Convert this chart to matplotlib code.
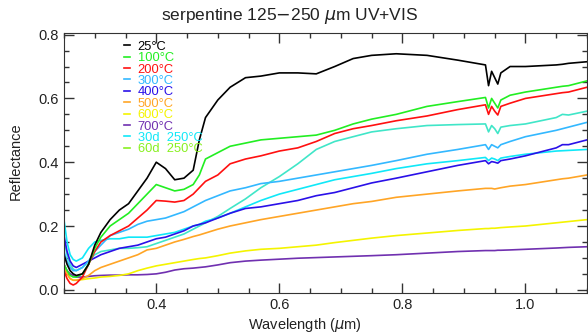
import matplotlib
matplotlib.use('Agg')
import matplotlib.pyplot as plt
from matplotlib.lines import Line2D
from matplotlib.ticker import MultipleLocator

plt.rcParams['font.family'] = ['Liberation Sans', 'DejaVu Sans']
plt.rcParams['mathtext.fontset'] = 'dejavusans'

# wavelength grid (um)
wl = [0.245, 0.25, 0.255, 0.26, 0.265, 0.27, 0.28, 0.29, 0.30, 0.31, 0.325, 0.34,
      0.355, 0.37, 0.385, 0.40, 0.415, 0.43, 0.445, 0.46, 0.47, 0.48, 0.50, 0.52,
      0.545, 0.57, 0.60, 0.63, 0.66, 0.69, 0.72, 0.75, 0.79, 0.84, 0.89, 0.935,
      0.94, 0.945, 0.95, 0.955, 0.96, 0.975, 1.0, 1.05, 1.06, 1.07, 1.1]

r_25 = [0.14, 0.11, 0.08, 0.06, 0.05, 0.045, 0.05, 0.08, 0.14, 0.18, 0.22, 0.25,
        0.27, 0.31, 0.35, 0.40, 0.38, 0.345, 0.35, 0.375, 0.47, 0.54, 0.595, 0.635,
        0.665, 0.67, 0.68, 0.68, 0.677, 0.70, 0.725, 0.735, 0.74, 0.735, 0.72, 0.705,
        0.64, 0.685, 0.665, 0.645, 0.68, 0.70, 0.70, 0.705, 0.707, 0.71, 0.715]
r_100 = [0.10, 0.08, 0.06, 0.045, 0.04, 0.04, 0.05, 0.08, 0.13, 0.165, 0.20, 0.22,
         0.24, 0.27, 0.30, 0.33, 0.32, 0.31, 0.315, 0.33, 0.36, 0.41, 0.43, 0.45,
         0.46, 0.47, 0.475, 0.48, 0.485, 0.50, 0.52, 0.535, 0.55, 0.575, 0.59, 0.603,
         0.57, 0.60, 0.585, 0.57, 0.595, 0.61, 0.62, 0.635, 0.638, 0.64, 0.655]
r_200 = [0.09, 0.06, 0.035, 0.02, 0.015, 0.02, 0.04, 0.08, 0.12, 0.15, 0.17, 0.185,
         0.20, 0.225, 0.25, 0.28, 0.278, 0.275, 0.28, 0.30, 0.32, 0.34, 0.36, 0.395,
         0.41, 0.42, 0.435, 0.445, 0.465, 0.49, 0.505, 0.515, 0.53, 0.545, 0.565, 0.58,
         0.55, 0.575, 0.56, 0.548, 0.575, 0.585, 0.60, 0.615, 0.618, 0.62, 0.635]
r_300 = [0.17, 0.12, 0.09, 0.07, 0.06, 0.06, 0.07, 0.09, 0.12, 0.14, 0.17, 0.18,
         0.19, 0.205, 0.215, 0.22, 0.225, 0.235, 0.245, 0.26, 0.27, 0.28, 0.295, 0.31,
         0.32, 0.333, 0.34, 0.35, 0.36, 0.37, 0.38, 0.39, 0.405, 0.425, 0.44, 0.455,
         0.44, 0.455, 0.45, 0.445, 0.455, 0.465, 0.48, 0.50, 0.505, 0.51, 0.525]
r_400 = [0.22, 0.17, 0.12, 0.09, 0.075, 0.07, 0.08, 0.09, 0.10, 0.11, 0.12, 0.13,
         0.135, 0.14, 0.15, 0.16, 0.165, 0.175, 0.185, 0.20, 0.205, 0.21, 0.225, 0.24,
         0.255, 0.26, 0.27, 0.28, 0.295, 0.305, 0.32, 0.335, 0.35, 0.37, 0.39, 0.405,
         0.395, 0.402, 0.40, 0.397, 0.405, 0.41, 0.42, 0.445, 0.455, 0.455, 0.47]
r_500 = [0.10, 0.07, 0.05, 0.035, 0.03, 0.03, 0.035, 0.045, 0.06, 0.07, 0.08, 0.09,
         0.10, 0.11, 0.125, 0.13, 0.14, 0.15, 0.158, 0.167, 0.172, 0.178, 0.19, 0.20,
         0.21, 0.22, 0.23, 0.24, 0.25, 0.26, 0.27, 0.277, 0.29, 0.30, 0.31, 0.318,
         0.318, 0.318, 0.316, 0.318, 0.32, 0.325, 0.33, 0.345, 0.348, 0.35, 0.36]
r_600 = [0.12, 0.08, 0.05, 0.035, 0.03, 0.03, 0.032, 0.035, 0.037, 0.04, 0.042, 0.045,
         0.05, 0.06, 0.068, 0.075, 0.08, 0.085, 0.09, 0.095, 0.098, 0.10, 0.107, 0.115,
         0.122, 0.127, 0.13, 0.135, 0.14, 0.148, 0.155, 0.162, 0.17, 0.178, 0.186, 0.192,
         0.192, 0.193, 0.193, 0.194, 0.195, 0.197, 0.20, 0.21, 0.212, 0.214, 0.22]
r_700 = [0.10, 0.08, 0.06, 0.05, 0.045, 0.04, 0.04, 0.042, 0.044, 0.045, 0.046, 0.046,
         0.047, 0.047, 0.048, 0.05, 0.055, 0.062, 0.066, 0.068, 0.07, 0.072, 0.078, 0.085,
         0.09, 0.093, 0.096, 0.099, 0.101, 0.103, 0.105, 0.107, 0.11, 0.115, 0.12, 0.123,
         0.123, 0.123, 0.123, 0.124, 0.124, 0.125, 0.127, 0.131, 0.132, 0.133, 0.135]
r_30d = [0.25, 0.22, 0.15, 0.11, 0.095, 0.09, 0.10, 0.13, 0.15, 0.155, 0.16, 0.16,
         0.165, 0.165, 0.165, 0.17, 0.175, 0.18, 0.19, 0.20, 0.205, 0.215, 0.225, 0.24,
         0.26, 0.28, 0.30, 0.315, 0.33, 0.345, 0.355, 0.365, 0.38, 0.395, 0.405, 0.415,
         0.405, 0.413, 0.41, 0.405, 0.413, 0.418, 0.425, 0.435, 0.436, 0.437, 0.44]
# turquoise curve drawn in the plot but not listed in the legend
r_extra = [0.20, 0.16, 0.11, 0.08, 0.065, 0.06, 0.07, 0.09, 0.11, 0.12, 0.125, 0.13,
           0.13, 0.132, 0.135, 0.145, 0.155, 0.165, 0.175, 0.19, 0.20, 0.21, 0.23, 0.255,
           0.285, 0.32, 0.355, 0.395, 0.44, 0.465, 0.48, 0.495, 0.505, 0.515, 0.518, 0.52,
           0.495, 0.515, 0.505, 0.49, 0.51, 0.515, 0.52, 0.54, 0.55, 0.548, 0.56]

labels = ['25°C', '100°C', '200°C', '300°C', '400°C', '500°C', '600°C', '700°C',
          '30d  250°C', '60d  250°C']
colors = ['black', '#22ee22', '#ff1010', '#33b8ff', '#2a10e8', '#ffa526', '#f4f400',
          '#7030b0', '#10e8f8', '#88f020']
series = [r_25, r_100, r_200, r_300, r_400, r_500, r_600, r_700, r_30d]

fig = plt.figure(figsize=(5.88, 3.35), dpi=100)
ax = fig.add_axes([0.1088, 0.1254, 0.8895, 0.776])

ax.plot(wl, r_extra, color='#40e6c8', lw=1.2)
for y, c in zip(series[::-1], colors[len(series) - 1::-1]):
    ax.plot(wl, y, color=c, lw=1.2)

ax.set_xlim(0.25, 1.1)
ax.set_ylim(-0.01, 0.805)
ax.xaxis.set_major_locator(MultipleLocator(0.2))
ax.xaxis.set_minor_locator(MultipleLocator(0.05))
ax.yaxis.set_major_locator(MultipleLocator(0.2))
ax.yaxis.set_minor_locator(MultipleLocator(0.05))
ax.xaxis.set_major_formatter('{x:.1f}')
ax.yaxis.set_major_formatter('{x:.1f}')
ax.tick_params(which='both', direction='in', top=True, right=True,
               color='#333333', labelsize=10.5, labelcolor='#222222')
ax.tick_params(which='major', length=7, width=1)
ax.tick_params(which='minor', length=3.5, width=1)
for s in ax.spines.values():
    s.set_color('#333333')

handles = [Line2D([], [], color=c, lw=1.2) for c in colors]
ax.legend(handles, labels, loc='upper left', bbox_to_anchor=(0.095, 1.01),
          frameon=False, fontsize=9.3, labelspacing=-0.05, handlelength=0.45,
          handletextpad=0.6, labelcolor=colors, borderpad=0.3)

fig.text(0.493, 0.953, r'serpentine 125$-$250 $\mu$m UV+VIS', ha='center',
         va='center', fontsize=12.5, color='#222222')
fig.text(0.519, 0.03, r'Wavelength ($\mu$m)', ha='center', va='center',
         fontsize=10.5, color='#222222')
fig.text(0.026, 0.52, 'Reflectance', ha='center', va='center', rotation=90,
         fontsize=10.5, color='#222222')

fig.savefig('out.png', dpi=100)
